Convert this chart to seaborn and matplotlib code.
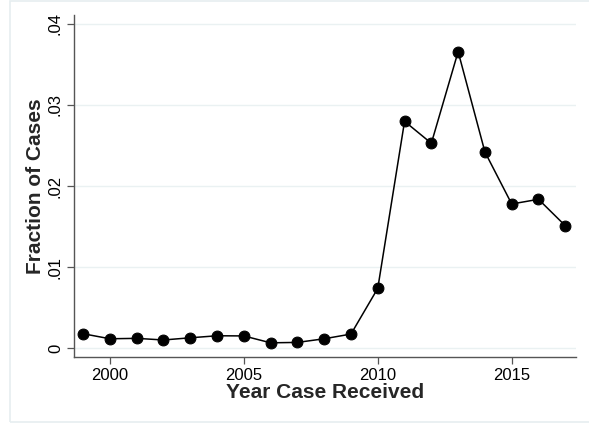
import pandas as pd
import matplotlib
matplotlib.use("Agg")
import matplotlib.pyplot as plt
import seaborn as sns
from matplotlib.patches import Rectangle
from matplotlib.ticker import FuncFormatter

years = [1999, 2000, 2001, 2002, 2003, 2004, 2005, 2006, 2007, 2008,
         2009, 2010, 2011, 2012, 2013, 2014, 2015, 2016, 2017]
fraction = [0.00177, 0.00115, 0.0012, 0.00100, 0.00127, 0.00152, 0.0015,
            0.00065, 0.0007, 0.00115, 0.00173, 0.00737, 0.02798, 0.02527,
            0.03658, 0.0242, 0.01778, 0.01836, 0.0151]
x_ticks = [2000, 2005, 2010, 2015]
y_ticks = [0, 0.01, 0.02, 0.03, 0.04]

sns.set_theme(style="white")
plt.rcParams["font.family"] = ["Liberation Sans", "DejaVu Sans"]

df = pd.DataFrame({"year": years, "fraction": fraction})

fig = plt.figure(figsize=(5.89, 4.23), dpi=100)
fig.patches.append(Rectangle((10 / 589, 0.002), 1.0, 0.996, transform=fig.transFigure,
                             fill=False, edgecolor="#e6eef0", lw=1.2, zorder=0))
ax = fig.add_axes([74 / 589, 66 / 423, 502 / 589, 342 / 423])

for yt in y_ticks:
    ax.axhline(yt, color="#eaf1f2", lw=1.0, zorder=0)

sns.lineplot(data=df, x="year", y="fraction", ax=ax, color="black", lw=1.1,
             marker="o", markersize=7.8, markeredgecolor="black", zorder=3)

ax.set_xlim(1998.66, 2017.4)
ax.set_ylim(-0.0011, 0.0411)
ax.set_xticks(x_ticks)
ax.set_yticks(y_ticks)
ax.yaxis.set_major_formatter(FuncFormatter(
    lambda v, p: "0" if v == 0 else f"{v:.2f}".lstrip("0")))
for lab in ax.get_yticklabels():
    lab.set_rotation(90)
    lab.set_va("center")

ax.tick_params(axis="both", direction="out", length=5, width=0.9,
               color="#555555", labelsize=12, labelcolor="black", pad=3)
ax.tick_params(axis="x", bottom=True)
ax.tick_params(axis="y", left=True)
for s in ["top", "right"]:
    ax.spines[s].set_visible(False)
for s in ["left", "bottom"]:
    ax.spines[s].set_color("#555555")
    ax.spines[s].set_linewidth(1.0)

ax.set_xlabel("Year Case Received", fontsize=15, fontweight="bold", labelpad=0)
ax.set_ylabel("Fraction of Cases", fontsize=15, fontweight="bold", labelpad=2)

plt.savefig("out.png", dpi=100)
plt.close()
